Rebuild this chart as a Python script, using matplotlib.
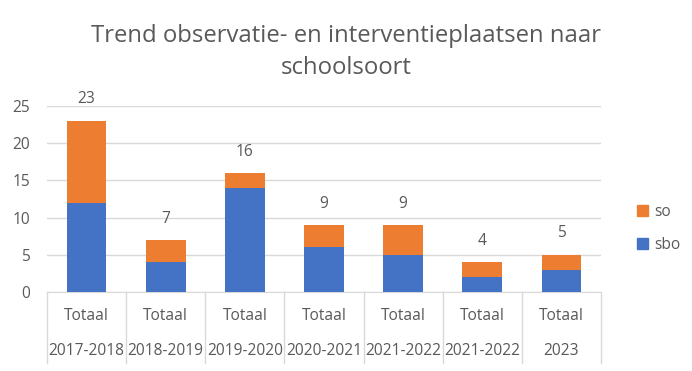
import matplotlib.pyplot as plt
from matplotlib.patches import Patch
from matplotlib.transforms import blended_transform_factory

plt.rcParams['font.family'] = ['Open Sans', 'DejaVu Sans']

# data
jaren = ['2017-2018', '2018-2019', '2019-2020', '2020-2021', '2021-2022', '2021-2022', '2023']
sbo = [12, 4, 14, 6, 5, 2, 3]
so = [11, 3, 2, 3, 4, 2, 2]

blauw = '#4472C4'
oranje = '#ED7D31'
grijs = '#595959'
lijn = '#D9D9D9'

fig = plt.figure(figsize=(6.92, 3.71), dpi=100)
ax = fig.add_axes([47 / 692, 79 / 371, 554 / 692, 186 / 371])

x = list(range(len(jaren)))
totaal = [a + b for a, b in zip(sbo, so)]

ax.bar(x, sbo, width=0.5, color=blauw, zorder=3)
ax.bar(x, so, width=0.5, bottom=sbo, color=oranje, zorder=3)

# totalen boven de staven
for xi, t in zip(x, totaal):
    ax.text(xi, t + 1.8, str(t), ha='center', va='bottom', fontsize=11.2,
            color=grijs, clip_on=False)

ax.set_xlim(-0.5, len(jaren) - 0.5)
ax.set_ylim(0, 25)
ax.set_yticks([0, 5, 10, 15, 20, 25])
ax.yaxis.grid(True, color=lijn, linewidth=1, zorder=0)
ax.tick_params(axis='y', length=0, labelsize=11.2, labelcolor=grijs, pad=12)
ax.set_xticks([])
for s in ['top', 'right', 'left']:
    ax.spines[s].set_visible(False)
ax.spines['bottom'].set_color(lijn)

# categorie-as met twee niveaus
tr = blended_transform_factory(ax.transData, ax.transAxes)
for grens in [i - 0.5 for i in range(len(jaren) + 1)]:
    ax.plot([grens, grens], [0, -0.38], color=lijn, linewidth=1,
            transform=tr, clip_on=False)
for xi, jaar in zip(x, jaren):
    ax.text(xi, -0.13, 'Totaal', ha='center', va='center', fontsize=11.2,
            color=grijs, transform=tr)
    ax.text(xi, -0.315, jaar, ha='center', va='center', fontsize=11.2,
            color=grijs, transform=tr)

fig.text(0.5, 0.86, 'Trend observatie- en interventieplaatsen naar\nschoolsoort',
         ha='center', va='center', fontsize=17.2, color=grijs, linespacing=1.45)

handles = [Patch(color=oranje, label='so'), Patch(color=blauw, label='sbo')]
fig.legend(handles=handles, loc='center left', bbox_to_anchor=(0.9, 0.385),
           frameon=False, fontsize=11.2, labelcolor=grijs, handlelength=0.7,
           handleheight=0.7, handletextpad=0.4, labelspacing=1.1)

fig.savefig('out.png', dpi=100)
